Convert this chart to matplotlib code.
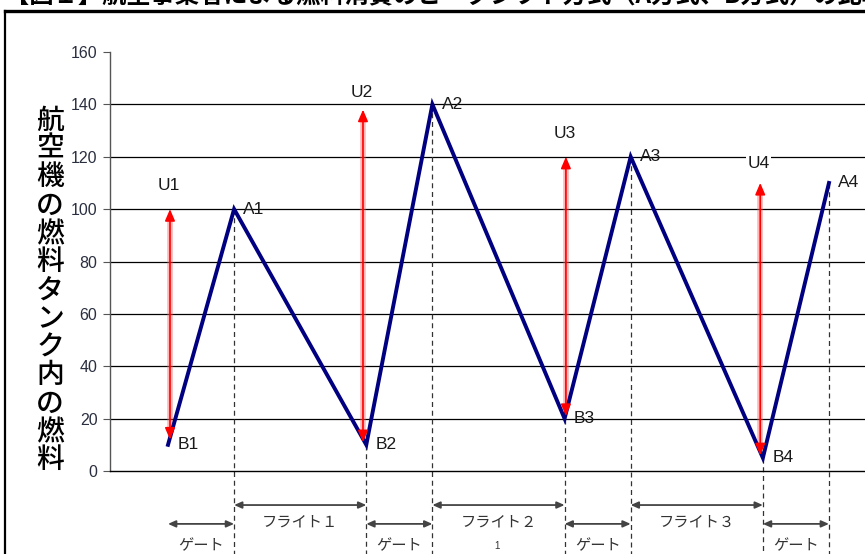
import matplotlib
matplotlib.use("Agg")
import matplotlib.pyplot as plt
from matplotlib.lines import Line2D

# ---- data ----
point_labels = ["B1", "A1", "B2", "A2", "B3", "A3", "B4", "A4"]
times = [1, 2, 4, 5, 7, 8, 10, 11]
fuel = [10, 100, 10, 140, 20, 120, 5, 110]

uplift_labels = ["U1", "U2", "U3", "U4"]
uplift_x = [1.03, 3.95, 7.02, 9.96]
uplift_top = [100, 138, 120, 110]
uplift_bottom = [12, 11, 21, 6]
uplift_label_y = [109, 144.5, 129, 117.5]

seg_labels = ["ゲート", "フライト１", "ゲート", "フライト２", "ゲート", "フライト３", "ゲート"]
seg_start = [1, 2, 4, 5, 7, 8, 10]
seg_end = [2, 4, 5, 7, 8, 10, 11]

yticks = [0, 20, 40, 60, 80, 100, 120, 140, 160]
ylabel = "航空機の燃料タンク内の燃料"
title = "【図１】航空事業者による燃料消費のピークシフト方式（A方式、B方式）の比較"

plt.rcParams['font.family'] = ['Liberation Sans', 'Noto Sans CJK JP', 'DejaVu Sans']
JP = ['Noto Sans CJK JP', 'DejaVu Sans']

W, H = 865, 554
fig = plt.figure(figsize=(W / 100, H / 100), dpi=100)
fig.patch.set_facecolor('white')

# frame around the figure (cut off at the right)
fig.add_artist(Line2D([5 / W, 1.0], [1 - 11 / H, 1 - 11 / H], color='black', lw=2.4,
                      transform=fig.transFigure))
fig.add_artist(Line2D([5 / W, 5 / W], [0, 1 - 11 / H], color='black', lw=1.6,
                      transform=fig.transFigure))

# title, cut off at the top edge as in the reference
fig.text(5 / W, 1 - 2 / H, title, fontsize=17.5, fontweight='bold', family=JP,
         ha='left', va='baseline', color='black')

ax_left = 110 / W
ax_bottom = (H - 471) / H
ax_top = (H - 52) / H
ax = fig.add_axes([ax_left, ax_bottom, 1.0 - ax_left, ax_top - ax_bottom])
ax.set_xlim(0.1225, 11.545)
ax.set_ylim(0, 160)
ax.patch.set_alpha(0)

for s in ['top', 'right']:
    ax.spines[s].set_visible(False)
ax.spines['left'].set_color('#555555')
ax.spines['left'].set_linewidth(1.0)
ax.spines['bottom'].set_color('black')
ax.spines['bottom'].set_linewidth(1.0)
ax.set_xticks([])
ax.set_yticks(yticks)
ax.set_yticklabels([str(v) for v in yticks])
ax.tick_params(axis='y', length=5, width=0.8, color='#555555', labelsize=11.5,
               labelcolor='#2a2f3f', pad=4)

# horizontal grid lines (not at 160)
for v in yticks[1:-1]:
    ax.axhline(v, color='black', lw=0.9, zorder=1)

# dashed verticals from each point (except the first) down past the axis
for t, f in zip(times[1:], fuel[1:]):
    ax.plot([t, t], [f, -40], color='#333333', lw=0.9, ls=(0, (4, 3)),
            clip_on=False, zorder=2)

# fuel level line
ax.plot(times, fuel, color='#000080', lw=2.8, zorder=4, solid_joinstyle='miter')

# point labels
for lab, t, f in zip(point_labels, times, fuel):
    ax.text(t + 0.14, f, lab, fontsize=12.5, ha='left', va='center', color='#1a1a1a', zorder=6)

# uplift arrows
for lab, x, top, bot, ly in zip(uplift_labels, uplift_x, uplift_top, uplift_bottom, uplift_label_y):
    ax.plot([x, x], [bot + 3, top - 3], color='#ff6060', lw=4.0, alpha=0.45,
            zorder=3, solid_capstyle='butt')
    ax.annotate('', xy=(x, top), xytext=(x, bot),
                arrowprops=dict(arrowstyle='<|-|>,head_length=0.7,head_width=0.3',
                                color='#ff0000', lw=1.2, shrinkA=0, shrinkB=0),
                zorder=5)
    bbox = dict(facecolor='white', edgecolor='none', pad=1.0) if lab in ("U2", "U4") else None
    ax.text(x - 0.02, ly, lab, fontsize=12.5, ha='center', va='center', color='#1a1a1a',
            bbox=bbox, zorder=6)

# gate / flight arrows below the axis
for lab, s, e in zip(seg_labels, seg_start, seg_end):
    is_flight = lab.startswith("フライト")
    ya = -13 if is_flight else -20.2
    yt = -19.6 if is_flight else -28.6
    ax.annotate('', xy=(e, ya), xytext=(s, ya), annotation_clip=False,
                arrowprops=dict(arrowstyle='<|-|>,head_length=0.45,head_width=0.2',
                                color='#444444', lw=1.3, shrinkA=0, shrinkB=0))
    ax.text((s + e) / 2, yt, lab, fontsize=11, family=JP, ha='center', va='center',
            color='#333333', clip_on=False)

ax.text(5.98, -28.6, "1", fontsize=7, ha='center', va='center', color='#333333', clip_on=False)

# vertical y-axis label (stacked characters)
fig.text(50 / W, 1 - 290 / H, "\n".join(ylabel), fontsize=20, family=JP,
         fontweight='medium', ha='center', va='center', linespacing=0.97, color='black')

fig.savefig("out.png", dpi=100)
